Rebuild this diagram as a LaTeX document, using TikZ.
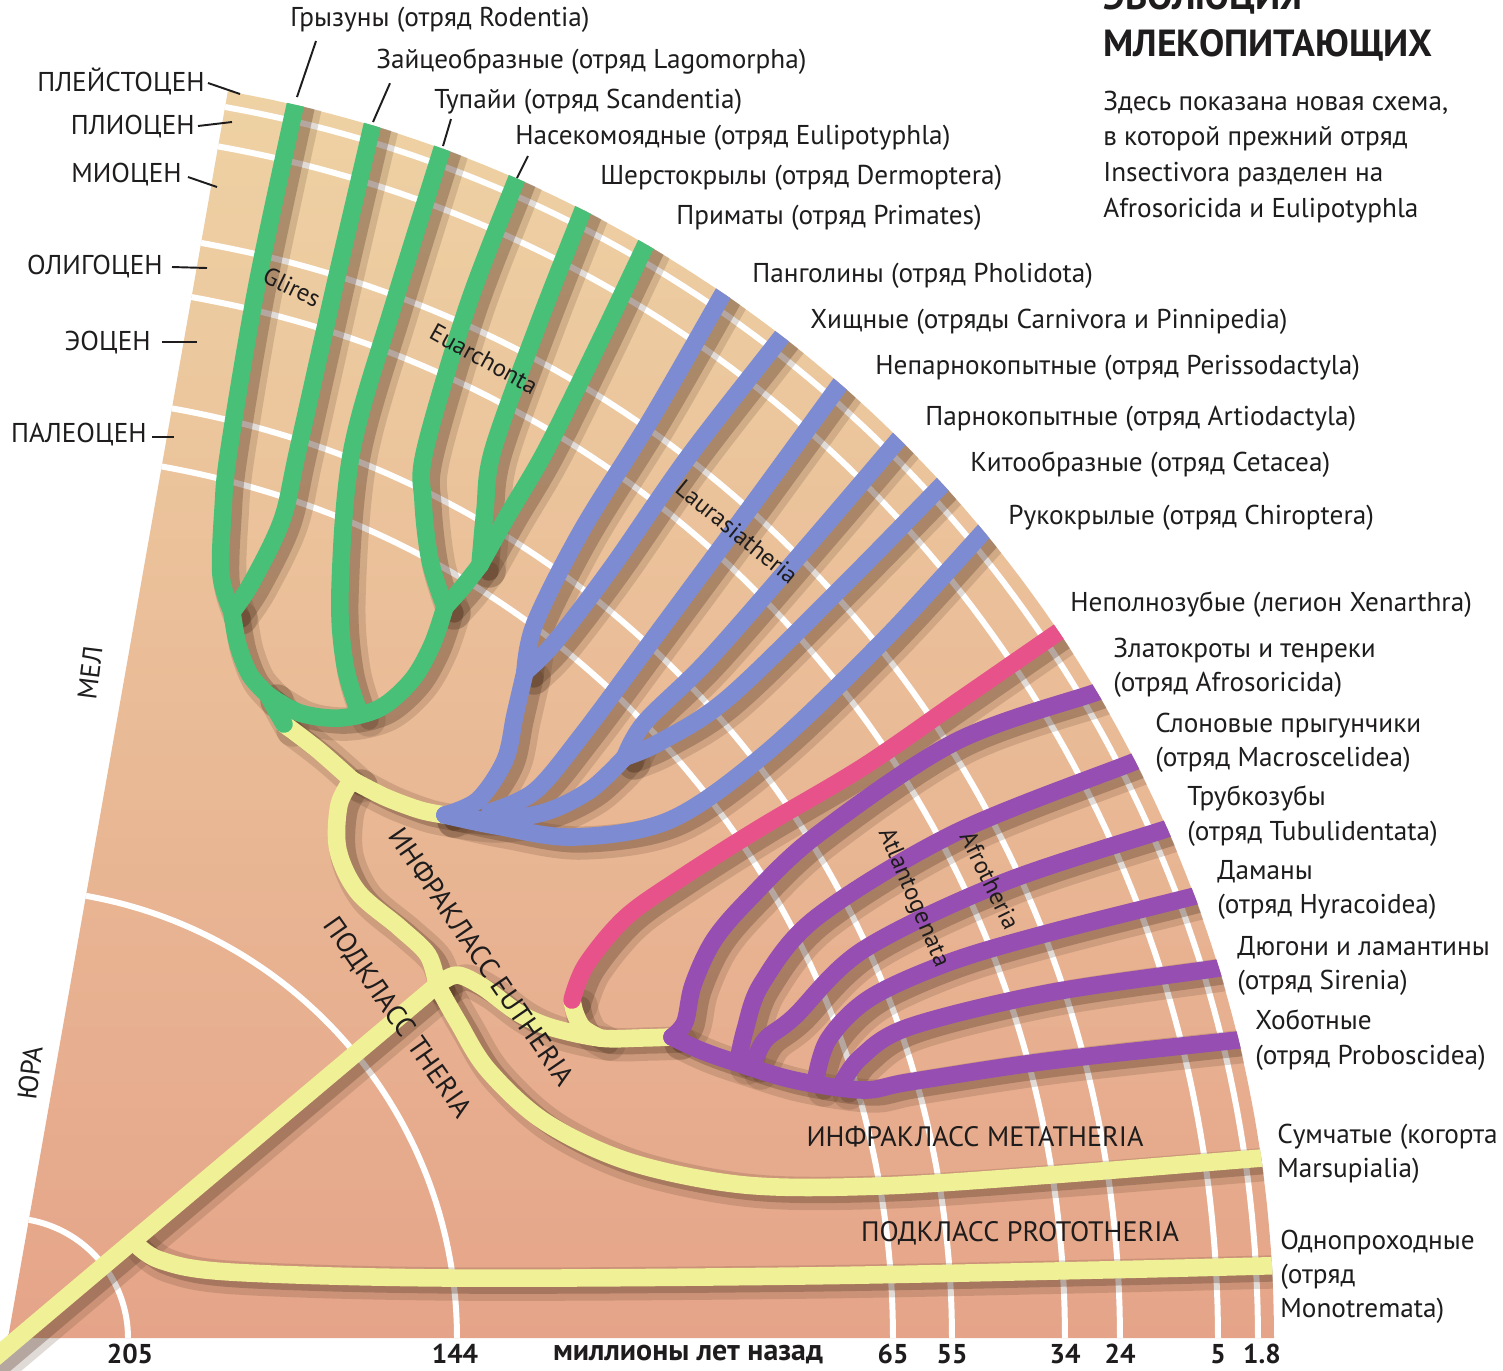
\documentclass[tikz,border=0pt]{standalone}
\usepackage{fontspec}
\setmainfont{PT Sans}
\usepackage{tikz}
\usetikzlibrary{calc}
\definecolor{tanTop}{RGB}{238,210,164}
\definecolor{tanMid}{RGB}{234,186,150}
\definecolor{tanBot}{RGB}{229,164,137}
\definecolor{cgreen}{RGB}{72,192,120}
\definecolor{cblue}{RGB}{125,140,210}
\definecolor{cpink}{RGB}{232,82,138}
\definecolor{cpurple}{RGB}{150,78,178}
\definecolor{cyel}{RGB}{240,240,150}
\definecolor{shadowcol}{RGB}{90,60,40}
\definecolor{ink}{RGB}{30,28,28}

% all branches of the tree; #1 is the style (shadow or coloured line)
\newcommand{\treepaths}[1]{%
  % yellow stems
  \draw[#1=cyel] plot[smooth,tension=.55] coordinates {(-15,1366) (PJ) (TJ)};
  \draw[#1=cyel] plot[smooth,tension=.55] coordinates {(PJ) (160,1260) (230,1272) (450,1278) (800,1276) (1100,1270) (1262,1266) (1290,1265)};
  \draw[#1=cyel] plot[smooth,tension=.55] coordinates {(TJ) (458,1022) (488,1070) (545,1122) (630,1162) (745,1185) (880,1186) (1050,1175) (1262,1158) (1290,1156)};
  \draw[#1=cyel] plot[smooth,tension=.55] coordinates {(TJ) (428,955) (400,928) (358,892) (338,850) (339,805) (EJ)};
  \draw[#1=cyel] plot[smooth,tension=.55] coordinates {(TJ) (457,975) (483,987) (517,1012) (550,1027) (AJ) (640,1038) (PR)};
  \draw[#1=cyel] plot[smooth,tension=.55] coordinates {(AJ) (583,1028) (575,1013) (XP)};
  \draw[#1=cyel] plot[smooth,tension=.55] coordinates {(EJ) (318,750) (GS)};
  \draw[#1=cyel] plot[smooth,tension=.55] coordinates {(EJ) (385,797) (420,810) (BR)};
  % Euarchontoglires
  \draw[#1=cgreen] plot[smooth,tension=.55] coordinates {(GS) (276,710) (GJ)};
  \draw[#1=cgreen] plot[smooth,tension=.55] coordinates {(GJ) (250,675) (238,645) (V1)};
  \draw[#1=cgreen] plot[smooth,tension=.55] coordinates {(V1) (221,575) (223,510) (229,450) (257,285) (tRod) (302,75)};
  \draw[#1=cgreen] plot[smooth,tension=.55] coordinates {(V1) (252,582) (282,520) (298,450) (335,285) (tLag) (378,100)};
  \draw[#1=cgreen] plot[smooth,tension=.55] coordinates {(GJ) (300,713) (340,718) (380,708) (412,680) (432,645) (EV)};
  \draw[#1=cgreen] plot[smooth,tension=.55] coordinates {(360,714) (345,665) (340,590) (352,450) (395,300) (tScan) (449,125)};
  \draw[#1=cgreen] plot[smooth,tension=.55] coordinates {(EV) (430,560) (423,500) (425,450) (468,305) (tEuli) (525,158)};
  \draw[#1=cgreen] plot[smooth,tension=.55] coordinates {(EV) (462,588) (V56)};
  \draw[#1=cgreen] plot[smooth,tension=.55] coordinates {(V56) (485,510) (493,450) (538,325) (585,205) (593,185)};
  \draw[#1=cgreen] plot[smooth,tension=.55] coordinates {(V56) (508,515) (546,450) (598,345) (648,240) (658,220)};
  % Laurasiatheria
  \draw[#1=cblue] plot[smooth,tension=.55] coordinates {(BR) (478,800) (505,760) (515,715) (BV12)};
  \draw[#1=cblue] plot[smooth,tension=.55] coordinates {(BV12) (535,623) (582,530) (651,419) (724,292) (735,273)};
  \draw[#1=cblue] plot[smooth,tension=.55] coordinates {(BV12) (555,642) (612,567) (689,456) (783,335) (795,318)};
  \draw[#1=cblue] plot[smooth,tension=.55] coordinates {(490,812) (535,791) (582,735) (651,642) (747,512) (841,383) (853,366)};
  \draw[#1=cblue] plot[smooth,tension=.55] coordinates {(BR) (490,820) (545,812) (590,790) (V45)};
  \draw[#1=cblue] plot[smooth,tension=.55] coordinates {(V45) (645,722) (708,660) (805,549) (899,439) (912,424)};
  \draw[#1=cblue] plot[smooth,tension=.55] coordinates {(V45) (660,742) (728,698) (843,586) (943,484) (957,470)};
  \draw[#1=cblue] plot[smooth,tension=.55] coordinates {(BR) (497,826) (574,837) (670,820) (766,753) (882,642) (985,530) (998,516)};
  % Xenarthra
  \draw[#1=cpink] plot[smooth,tension=.55] coordinates {(XP) (586,965) (625,918) (678,880) (760,828) (863,767) (960,700) (1057,633) (1078,619)};
  % Afrotheria
  \draw[#1=cpurple] plot[smooth,tension=.55] coordinates {(PR) (685,1022) (693,985) (714,940) (750,898) (817,835) (955,742) (1094,693) (1115,686)};
  \draw[#1=cpurple] plot[smooth,tension=.55] coordinates {(PR) (700,1050) (734,1062) (794,1080) (863,1090) (909,1082) (1048,1061) (1238,1040) (1260,1037)};
  \draw[#1=cpurple] plot[smooth,tension=.55] coordinates {(738,1062) (745,1030) (762,983) (817,917) (955,833) (1131,763) (1150,756)};
  \draw[#1=cpurple] plot[smooth,tension=.55] coordinates {(752,1067) (765,1040) (794,1017) (863,950) (1002,883) (1163,830) (1182,824)};
  \draw[#1=cpurple] plot[smooth,tension=.55] coordinates {(815,1084) (828,1040) (870,998) (950,962) (1048,933) (1191,897) (1210,892)};
  \draw[#1=cpurple] plot[smooth,tension=.55] coordinates {(840,1087) (860,1058) (909,1027) (1048,993) (1219,968) (1240,963)};
}

\begin{document}
\begin{tikzpicture}[x=0.02cm,y=-0.02cm,
  lbl/.style={font=\fontsize{15.5}{19.5}\selectfont,text=ink,inner sep=0pt,anchor=west,align=left},
  clade/.style={font=\fontsize{14}{16}\selectfont,text=ink,inner sep=0pt},
  bigclade/.style={font=\fontsize{16}{18}\selectfont,text=ink,inner sep=0pt},
  epoch/.style={font=\fontsize{15.5}{17}\selectfont,text=ink,inner sep=0pt,anchor=east},
  axislbl/.style={font=\bfseries\fontsize{15.5}{18}\selectfont,text=ink,inner sep=0pt},
  tick/.style={line width=1.1pt,ink},
  ring/.style={white,line width=3.4pt},
  br/.style={draw=#1,line width=10pt,line cap=round,line join=round},
  shA/.style={draw=shadowcol,line width=19pt,opacity=.18,line cap=round,line join=round},
  shB/.style={draw=shadowcol,line width=11pt,opacity=.32,line cap=round,line join=round}]
\useasboundingbox (0,0) rectangle (1503,1370);
\clip (0,0) rectangle (1503,1370);
\fill[white] (0,0) rectangle (1503,1370);

% fan of time
\coordinate (C) at (8,1338);
\shade[top color=tanTop,middle color=tanMid,bottom color=tanBot] (C) -- plot[domain=0:80,samples=120] ({8+1266*cos(\x)},{1338-1266*sin(\x)}) -- cycle;
\foreach \r in {120,449,885,944,1057,1112,1210,1250}
  \draw[ring] plot[domain=0:80,samples=100] ({8+\r*cos(\x)},{1338-\r*sin(\x)});

% junctions and tips
\coordinate (tRod) at (297,97);  \coordinate (tLag) at (373,122);
\coordinate (tScan) at (443,146); \coordinate (tEuli) at (517,178);
\coordinate (V1) at (232,612);  \coordinate (GJ) at (268,695);  \coordinate (GS) at (284,724);
\coordinate (EV) at (445,607);  \coordinate (V56) at (480,565);
\coordinate (EJ) at (352,780);  \coordinate (BR) at (445,815);
\coordinate (BV12) at (525,672); \coordinate (V45) at (625,757);
\coordinate (TJ) at (437,985);  \coordinate (PJ) at (133,1241);
\coordinate (AJ) at (600,1038); \coordinate (XP) at (572,1000); \coordinate (PR) at (672,1037);

\begin{scope}
\clip (C) circle[radius=1266];
\begin{scope}[transform canvas={shift={(9,6)}}]
\treepaths{shA}
\treepaths{shB}
\end{scope}
\treepaths{br}
\end{scope}

% clade names
\node[clade,rotate=-26] (nGli) at (292,287) {Glires};
\node[clade,rotate=-29] (nEua) at (484,359) {Euarchonta};
\node[clade,rotate=-39] (nLau) at (737,532) {Laurasiatheria};
\node[clade,rotate=-67] (nAtl) at (913,898) {Atlantogenata};
\node[clade,rotate=-64] (nAfr) at (990,880) {Afrotheria};
\node[bigclade,rotate=-55.5] (nEut) at (482,957) {ИНФРАКЛАСС EUTHERIA};
\node[bigclade,rotate=-55] (nThe) at (397,1018) {ПОДКЛАСС THERIA};
\node[bigclade] (nMet) at (975,1137) {ИНФРАКЛАСС METATHERIA};
\node[bigclade] (nPro) at (1020,1233) {ПОДКЛАСС PROTOTHERIA};

% epochs
\node[epoch] (ePle) at (205,81) {ПЛЕЙСТОЦЕН};
\node[epoch] (ePli) at (195,127) {ПЛИОЦЕН};
\node[epoch] (eMio) at (182,175) {МИОЦЕН};
\node[epoch] (eOli) at (163,267) {ОЛИГОЦЕН};
\node[epoch] (eEoc) at (151,343) {ЭОЦЕН};
\node[epoch] (ePal) at (147,435) {ПАЛЕОЦЕН};
\draw[tick] (ePle.east) ++(3,2) -- ++(32,11);
\draw[tick] (ePli.east) ++(3,-1) -- ++(34,-4);
\draw[tick] (eMio.east) ++(6,2) -- ++(29,10);
\draw[tick] (eOli.east) ++(9,0) -- ++(35,1);
\draw[tick] (eEoc.east) ++(11,-1) -- ++(35,0);
\draw[tick] (ePal.east) ++(5,2) -- ++(22,0);
\node[epoch,anchor=center,rotate=83] (eMel) at (90,673) {МЕЛ};
\node[epoch,anchor=center,rotate=83] (eJur) at (30,1073) {ЮРА};

% orders on the top
\node[lbl] (lRod) at (290,20) {Грызуны (отряд Rodentia)};
\node[lbl] (lLag) at (376,62) {Зайцеобразные (отряд Lagomorpha)};
\node[lbl] (lScan) at (434,102) {Тупайи (отряд Scandentia)};
\node[lbl] (lEuli) at (515,138) {Насекомоядные (отряд Eulipotyphla)};
\node[lbl] (lDer) at (600,178) {Шерстокрылы (отряд Dermoptera)};
\node[lbl] (lPri) at (676,218) {Приматы (отряд Primates)};
\draw[tick] (lRod.south west) ++(26,8) -- (tRod);
\draw[tick] (lLag.south west) ++(14,8) -- (tLag);
\draw[tick] (lScan.south west) ++(17,4) -- (tScan);
\draw[tick] (lEuli.south west) ++(13,5) -- (tEuli);

% orders on the right
\node[lbl] (lPho) at (752,276) {Панголины (отряд Pholidota)};
\node[lbl] (lCar) at (810,322) {Хищные (отряды Carnivora и Pinnipedia)};
\node[lbl] (lPer) at (875,368) {Непарнокопытные (отряд Perissodactyla)};
\node[lbl] (lArt) at (925,419) {Парнокопытные (отряд Artiodactyla)};
\node[lbl] (lCet) at (970,465) {Китообразные (отряд Cetacea)};
\node[lbl] (lChi) at (1008,518) {Рукокрылые (отряд Chiroptera)};
\node[lbl] (lXen) at (1070,605) {Неполнозубые (легион Xenarthra)};
\node[lbl] (lAfs) at (1113,668) {Златокроты и тенреки\\(отряд Afrosoricida)};
\node[lbl] (lMac) at (1155,743) {Слоновые прыгунчики\\(отряд Macroscelidea)};
\node[lbl] (lTub) at (1187,816) {Трубкозубы\\(отряд Tubulidentata)};
\node[lbl] (lHyr) at (1217,890) {Даманы\\(отряд Hyracoidea)};
\node[lbl] (lSir) at (1237,966) {Дюгони и ламантины\\(отряд Sirenia)};
\node[lbl] (lPrb) at (1255,1040) {Хоботные\\(отряд Proboscidea)};
\node[lbl] (lMar) at (1277,1154) {Сумчатые (когорта\\Marsupialia)};
\node[lbl] (lMon) at (1280,1277) {Однопроходные\\(отряд\\Monotremata)};

% title
\node[lbl,font=\bfseries\fontsize{21.5}{26}\selectfont] (ttlA) at (1103,-2) {ЭВОЛЮЦИЯ};
\node[lbl,font=\bfseries\fontsize{21.5}{26}\selectfont] (ttlB) at (1103,45) {МЛЕКОПИТАЮЩИХ};
\node[lbl,font=\fontsize{15.5}{20.4}\selectfont] (note) at (1103,157) {Здесь показана новая схема,\\в которой прежний отряд\\Insectivora разделен на\\Afrosoricida и Eulipotyphla};

% time axis
\foreach \xx/\tt in {130/205,455/144,893/65,952/55,1065/34,1120/24,1218/5,1262/1.8}
  \node[axislbl] at (\xx,1354) {\tt};
\node[axislbl,font=\bfseries\fontsize{17}{19}\selectfont] (axTitle) at (688,1354) {миллионы лет назад};
\end{tikzpicture}
\end{document}
